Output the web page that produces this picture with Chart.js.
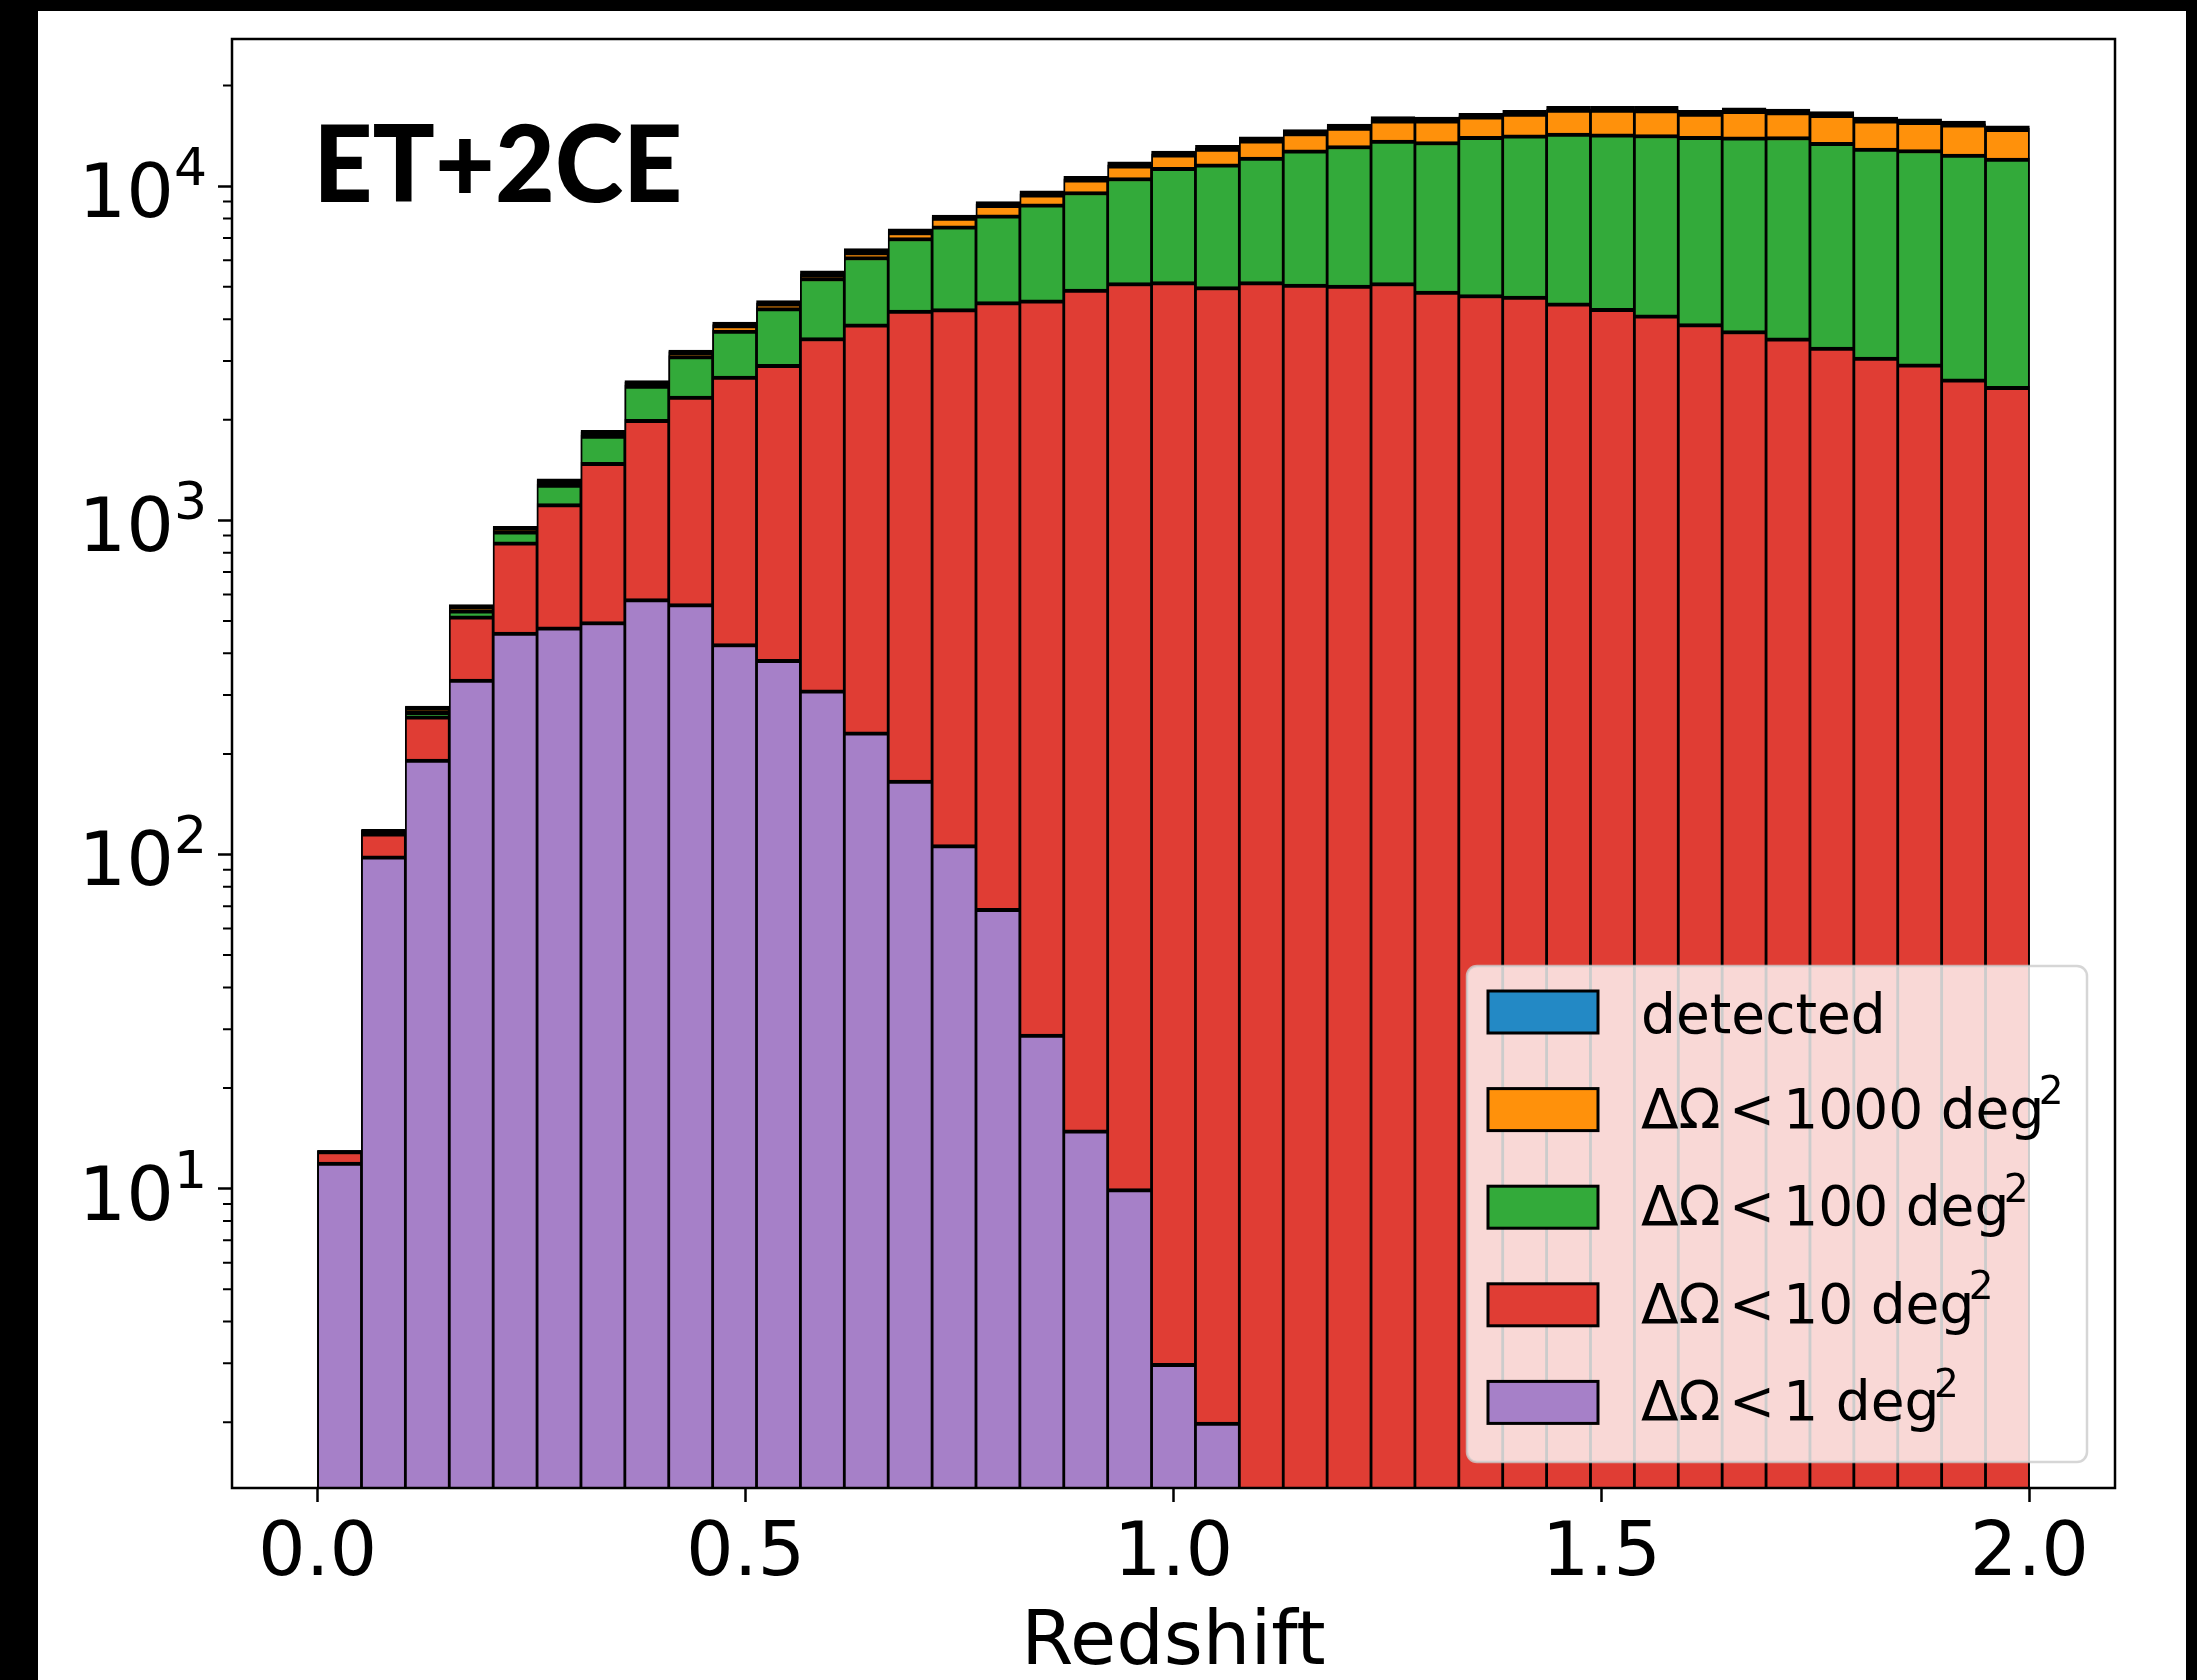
<!DOCTYPE html>
<html lang="en">
<head>
  <meta charset="UTF-8" />
  <title>ET+2CE sky localisation vs redshift</title>
  <script src="https://cdn.jsdelivr.net/npm/chart.js"></script>
  <style>
    html, body { margin: 0; padding: 0; background: #000; overflow: hidden; }
    #wrap { position: relative; width: 2197px; height: 1680px; }
  </style>
</head>
<body>
  <div id="wrap"><canvas id="hist"></canvas></div>

  <script>
    // histogram binning: 39 equal redshift bins from 0 to 2
    const zMin = 0, zMax = 2, nBins = 39;
    const binCentres = Array.from({ length: nBins }, (_, i) => zMin + (i + 0.5) * (zMax - zMin) / nBins);

    // counts per bin, each set contains the next one
    const nDetected = [13, 119, 278, 560, 960, 1330, 1860, 2620, 3235, 3920, 4550, 5580, 6500, 7460, 8200, 9000,
      9680, 10700, 11820, 12740, 13250, 14040, 14780, 15350, 16150, 16110, 16510, 16860, 17330, 17330, 17330,
      16860, 17170, 17020, 16710, 16110, 15920, 15670, 15170];
    const n1000 = [13, 118, 276, 555, 955, 1315, 1840, 2590, 3200, 3850, 4480, 5470, 6370, 7320, 8080, 8820,
      9490, 10520, 11590, 12500, 13000, 13770, 14480, 15030, 15810, 15810, 16250, 16550, 17020, 17020, 16940,
      16550, 16860, 16710, 16400, 15810, 15630, 15380, 14890];
    const n100 = [13, 118, 268, 540, 930, 1283, 1800, 2540, 3110, 3710, 4330, 5330, 6160, 7020, 7610, 8210,
      8860, 9640, 10620, 11380, 11670, 12220, 12850, 13240, 13750, 13610, 14090, 14250, 14420, 14350, 14280,
      14100, 14050, 14080, 13520, 13000, 12880, 12480, 12140];
    const n10 = [13, 116, 260, 518, 862, 1122, 1492, 2005, 2355, 2700, 2930, 3525, 3870, 4260, 4300, 4515,
      4570, 4920, 5150, 5180, 5010, 5180, 5090, 5060, 5150, 4850, 4740, 4690, 4480, 4310, 4120,
      3880, 3700, 3515, 3300, 3080, 2940, 2650, 2520];
    const n1 = [12, 99, 193, 335, 463, 480, 498, 583, 563, 428, 384, 311, 233, 167, 107, 69,
      29, 15, 10, 3, 2, 0, 0, 0, 0, 0, 0, 0, 0, 0, 0,
      0, 0, 0, 0, 0, 0, 0, 0];

    const xTicks = [0, 0.5, 1, 1.5, 2];
    const yDecades = [1, 2, 3, 4];
    const yMin = Math.pow(10, 0.104), yMax = Math.pow(10, 4.4405);

    // legend order, widest area first
    const layers = [
      { area: null,   counts: nDetected, colour: '#2389c5' },
      { area: '1000', counts: n1000,     colour: '#ff910b' },
      { area: '100',  counts: n100,      colour: '#33aa3a' },
      { area: '10',   counts: n10,       colour: '#e03d34' },
      { area: '1',    counts: n1,        colour: '#a680c8' }
    ];

    const FONT = '"DejaVu Sans"';

    function drawAreaLabel(ctx, x, base, num, fs) {
      const gap = 0.15 * fs;
      ctx.font = fs + 'px ' + FONT;
      ctx.fillText('ΔΩ', x, base); x += ctx.measureText('ΔΩ').width + gap;
      ctx.fillText('<', x, base);  x += ctx.measureText('<').width + gap;
      ctx.fillText(num, x, base);  x += ctx.measureText(num + ' ').width;
      ctx.fillText('deg', x, base); x += ctx.measureText('deg').width - 0.1 * fs;
      ctx.font = Math.round(fs * 0.7) + 'px ' + FONT;
      ctx.fillText('2', x, base - 0.43 * fs);
    }

    const decorations = {
      id: 'decorations',
      beforeDraw(chart) {
        const { ctx, width, height } = chart;
        ctx.save();
        ctx.fillStyle = '#000';
        ctx.fillRect(0, 0, width, height);
        ctx.fillStyle = '#fff';
        ctx.fillRect(38, 11, 2148, height - 11);
        ctx.restore();
      },
      afterDraw(chart) {
        const { ctx, chartArea: a } = chart;
        const xs = chart.scales.x, ys = chart.scales.y;
        ctx.save();

        // frame
        ctx.strokeStyle = '#000';
        ctx.lineWidth = 2.5;
        ctx.strokeRect(a.left, a.top, a.right - a.left, a.bottom - a.top);

        // minor log ticks
        ctx.lineWidth = 2;
        ctx.beginPath();
        for (let e = 0; e <= 4; e++) {
          for (let m = 2; m <= 9; m++) {
            const v = m * Math.pow(10, e);
            if (v < yMin || v > yMax) continue;
            const y = ys.getPixelForValue(v);
            ctx.moveTo(a.left - 9, y);
            ctx.lineTo(a.left, y);
          }
        }
        ctx.stroke();

        // y labels 10^n
        ctx.fillStyle = '#000';
        ctx.textAlign = 'left';
        ctx.textBaseline = 'alphabetic';
        yDecades.forEach(e => {
          const y = ys.getPixelForValue(Math.pow(10, e));
          ctx.font = '75px ' + FONT;
          const wMain = ctx.measureText('10').width;
          ctx.font = '52px ' + FONT;
          const wSup = ctx.measureText(String(e)).width;
          const x0 = 207 - wMain - wSup;
          ctx.font = '75px ' + FONT;
          ctx.fillText('10', x0, y + 31);
          ctx.font = '52px ' + FONT;
          ctx.fillText(String(e), x0 + wMain, y - 1);
        });

        // x labels and title
        ctx.font = '75px ' + FONT;
        ctx.textAlign = 'center';
        xTicks.forEach(t => ctx.fillText(t.toFixed(1), xs.getPixelForValue(t), 1575));
        ctx.fillText('Redshift', (a.left + a.right) / 2, 1664);

        // detector network tag
        ctx.textAlign = 'left';
        ctx.font = '900 107px Lato';
        const tag = 'ET+2CE';
        const m = ctx.measureText(tag);
        const inkW = m.actualBoundingBoxLeft + m.actualBoundingBoxRight;
        ctx.save();
        ctx.translate(321, 202);
        ctx.scale(358 / inkW, 1);
        ctx.fillText(tag, m.actualBoundingBoxLeft, 0);
        ctx.restore();

        // legend
        ctx.beginPath();
        ctx.roundRect(1467, 966, 620, 496, 10);
        ctx.fillStyle = 'rgba(255,255,255,0.8)';
        ctx.fill();
        ctx.strokeStyle = 'rgba(204,204,204,0.8)';
        ctx.lineWidth = 2.5;
        ctx.stroke();

        layers.forEach((l, i) => {
          const cy = 1012 + i * 97.6;
          ctx.fillStyle = l.colour;
          ctx.fillRect(1488, cy - 21, 110, 42);
          ctx.strokeStyle = '#000';
          ctx.lineWidth = 3;
          ctx.strokeRect(1488, cy - 21, 110, 42);
          ctx.fillStyle = '#000';
          if (l.area === null) {
            ctx.font = '55px ' + FONT;
            ctx.fillText('detected', 1641, cy + 20.5);
          } else {
            drawAreaLabel(ctx, 1641, cy + 18, l.area, 55);
          }
        });

        ctx.restore();
      }
    };

    // smallest area on top, so it goes first
    const datasets = [...layers].reverse().map(l => ({
      label: l.area === null ? 'detected' : 'ΔΩ < ' + l.area + ' deg²',
      data: binCentres.map((z, i) => ({ x: z, y: l.counts[i] > 0 ? l.counts[i] : null })),
      backgroundColor: l.colour,
      borderColor: '#000',
      borderWidth: { top: 4, left: 1.75, right: 1.75, bottom: 0 },
      borderSkipped: 'start',
      grouped: false,
      barPercentage: 1,
      categoryPercentage: 1
    }));

    const tickGrid = { offset: false, drawOnChartArea: false, drawTicks: true, tickLength: 14, tickWidth: 2.5, tickColor: '#000' };

    new Chart(document.getElementById('hist'), {
      type: 'bar',
      data: { datasets },
      options: {
        responsive: true,
        maintainAspectRatio: false,
        animation: false,
        layout: { padding: { left: 0, top: 39, right: 82, bottom: 0 } },
        plugins: { legend: { display: false }, tooltip: { enabled: false } },
        scales: {
          x: {
            type: 'linear', min: -0.1, max: 2.1, bounds: 'data', offset: false,
            afterBuildTicks: s => { s.ticks = xTicks.map(v => ({ value: v })); },
            afterFit: s => { s.height = 192; },
            grid: tickGrid,
            border: { display: false },
            ticks: { display: false }
          },
          y: {
            type: 'logarithmic', min: yMin, max: yMax, bounds: 'data',
            afterBuildTicks: s => { s.ticks = yDecades.map(e => ({ value: Math.pow(10, e) })); },
            afterFit: s => { s.width = 232; },
            grid: tickGrid,
            border: { display: false },
            ticks: { display: false }
          }
        }
      },
      plugins: [decorations]
    });
  </script>
</body>
</html>
